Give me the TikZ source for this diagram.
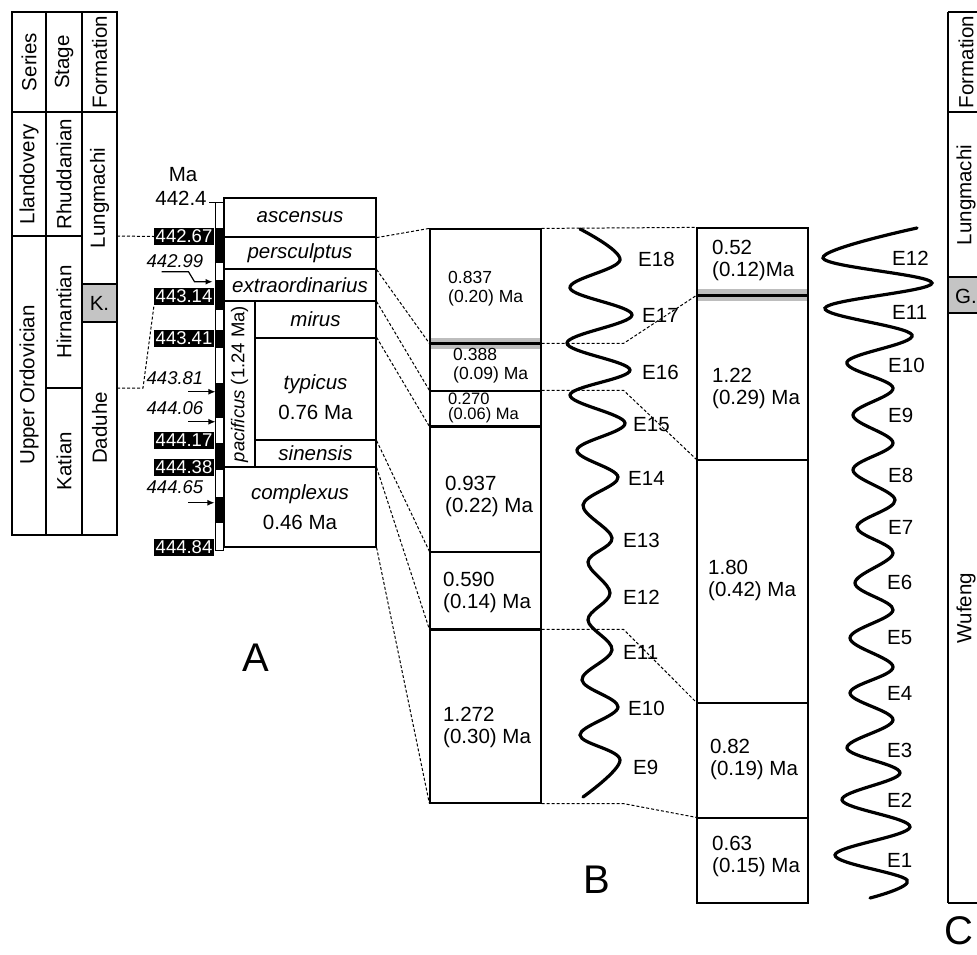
\documentclass[tikz,border=0pt]{standalone}
\usepackage{fontspec}
\setmainfont{Liberation Sans}
\usepackage{tikz}
\usetikzlibrary{arrows.meta,calc}
\definecolor{BandGray}{HTML}{BDBDBD}
\definecolor{CellGray}{HTML}{C4C4C4}
\newcommand{\txtmain}{\fontsize{20.5}{22}\selectfont}
\newcommand{\txtsmall}{\fontsize{17.5}{19}\selectfont}
\newcommand{\txtma}{\fontsize{18.5}{20}\selectfont}
\newcommand{\txtbig}{\fontsize{40}{44}\selectfont}

\begin{document}
\begin{tikzpicture}[x=1pt,y=-1pt,
    every node/.style={font=\txtmain, inner sep=0pt},
    box/.style={draw, line width=1.2pt, inner sep=0pt},
    con/.style={dash pattern=on 3pt off 2pt, line width=1pt},
    blk/.style={fill=black, text=white, font=\txtma, inner xsep=1.5pt, inner ysep=2pt, anchor=east},
    age/.style={font=\txtma\itshape},
    ptr/.style={-{Latex[length=7pt,width=6pt]}, line width=1.2pt},
    val/.style={anchor=west, align=left},
    wave/.style={line width=3.2pt, line cap=round, smooth, tension=0.6}]
  \useasboundingbox (0,0) rectangle (977,954);
  \clip (0,0) rectangle (977,954);

  % chronostratigraphic table
  \draw[line width=1.2pt] (12,12) rectangle (117,535);
  \draw[line width=1.2pt] (46,12) -- (46,535) (82,12) -- (82,535)
    (12,112) -- (117,112) (12,236) -- (82,236) (46,388) -- (82,388);
  \filldraw[fill=CellGray, line width=1.2pt] (82,284) rectangle (117,322);
  \node[rotate=90] (tSer) at (29,62) {Series};
  \node[rotate=90] (tStg) at (64,62) {Stage};
  \node[rotate=90] (tFm) at (99.5,62) {Formation};
  \node[rotate=90] (tLla) at (29,174) {Llandovery};
  \node[rotate=90] (tUO) at (29,385) {Upper Ordovician};
  \node[rotate=90] (tRhu) at (64,174) {Rhuddanian};
  \node[rotate=90] (tHir) at (64,312) {Hirnantian};
  \node[rotate=90] (tKat) at (64,461) {Katian};
  \node[rotate=90] (tLun) at (99.5,198) {Lungmachi};
  \node (tK) at (99.5,303) {K.};
  \node[rotate=90] (tDad) at (99.5,428) {Daduhe};
  \coordinate (lmBase) at (117,236);
  \coordinate (ddTop) at (117,388);

  % Ma scale
  \node (tMa) at (183,175) {Ma};
  \node (t4424) at (181,198) {442.4};
  \draw[line width=1pt] (209,202) -- (215,202);
  \filldraw[fill=white, line width=1pt] (215,202) rectangle (223,550);
  \foreach \a/\b in {228/263, 280/310, 330/348, 383/418, 443/470, 497/523}
    \fill (215,\a) rectangle (223,\b);
  \draw[line width=1pt] (215,202) rectangle (223,550);
  \node[blk] (l4267) at (214,236.5) {442.67};
  \node[blk] (l4314) at (214,296.5) {443.14};
  \node[blk] (l4341) at (214,338.5) {443.41};
  \node[blk] (l4417) at (214,440.5) {444.17};
  \node[blk] (l4438) at (214,467.5) {444.38};
  \node[blk] (l4484) at (214,547.5) {444.84};
  \node[age] (l4299) at (175,261) {442.99};
  \node[age] (l4381) at (175,378) {443.81};
  \node[age] (l4406) at (175,408) {444.06};
  \node[age] (l4465) at (175,487) {444.65};
  \draw[ptr] (l4299.south west) ++(15,4) -- ++(27,0) -- ++(6,10) -- ++(18,0);
  \draw[ptr] (l4381.south east) ++(-15,7) -- ++(27,0);
  \draw[ptr] (l4406.south east) ++(-15,7) -- ++(27,0);
  \draw[ptr] (l4465.south east) ++(-15,9) -- ++(26,0);
  \draw[con] (lmBase) -- (l4267.west);
  \draw[con] (ddTop) -- ++(26,0) -- (l4314.south west);

  % graptolite zones
  \node[box, minimum width=152pt, minimum height=39pt] (asc) at (300,217.5) {\itshape ascensus};
  \node[box, minimum width=152pt, minimum height=32pt] (per) at (300,253) {\itshape persculptus};
  \node[box, minimum width=152pt, minimum height=32pt] (ext) at (300,285) {\itshape extraordinarius};
  \node[box, rotate=90, minimum width=166pt, minimum height=31pt, font=\txtma] (pac) at (239.5,384)
    {\textit{pacificus} (1.24 Ma)};
  \node[box, minimum width=121pt, minimum height=37pt] (mir) at (315.5,319.5) {\itshape mirus};
  \node[box, minimum width=121pt, minimum height=102pt] (typ) at (315.5,389) {};
  \node[align=center] (typTxt) at (315.5,397) {\textit{typicus}\\[8pt]0.76 Ma};
  \node[box, minimum width=121pt, minimum height=27pt] (sin) at (315.5,453.5) {\itshape sinensis};
  \node[box, minimum width=152pt, minimum height=80pt, align=center] (cpx) at (300,507)
    {\textit{complexus}\\[8pt]0.46 Ma};

  % column B
  \fill[BandGray] (430,338) rectangle (541,349);
  \node[box, minimum width=111pt, minimum height=115pt] (m1) at (485.5,286.5) {};
  \node[box, minimum width=111pt, minimum height=47pt] (m2) at (485.5,367.5) {};
  \node[box, minimum width=111pt, minimum height=36pt] (m3) at (485.5,409) {};
  \node[box, minimum width=111pt, minimum height=125pt] (m4) at (485.5,489.5) {};
  \node[box, minimum width=111pt, minimum height=78pt] (m5) at (485.5,591) {};
  \node[box, minimum width=111pt, minimum height=173pt] (m6) at (485.5,716.5) {};
  \draw[line width=2.4pt] (m2.north west) -- (m2.north east);
  \draw[line width=2.4pt] (m4.north west) -- (m4.north east);
  \draw[line width=2.4pt] (m6.north west) -- (m6.north east);
  \node[val, font=\txtsmall] (v1) at (448,288.5) {0.837\\(0.20) Ma};
  \node[val, font=\txtsmall] (v2) at (453,365.5) {0.388\\(0.09) Ma};
  \node[val, font=\fontsize{16.5}{15.5}\selectfont] (v3) at (448,408) {0.270\\(0.06) Ma};
  \node[val] (v4) at (445,496) {0.937\\(0.22) Ma};
  \node[val] (v5) at (443,592) {0.590\\(0.14) Ma};
  \node[val] (v6) at (443,727) {1.272\\(0.30) Ma};

  % column right of B
  \fill[BandGray] (697,289) rectangle (808,301);
  \node[box, minimum width=111pt, minimum height=68pt] (r1) at (752.5,262) {};
  \node[box, minimum width=111pt, minimum height=164pt] (r2) at (752.5,378) {};
  \node[box, minimum width=111pt, minimum height=243pt] (r3) at (752.5,581.5) {};
  \node[box, minimum width=111pt, minimum height=115pt] (r4) at (752.5,760.5) {};
  \node[box, minimum width=111pt, minimum height=85pt] (r5) at (752.5,860.5) {};
  \draw[line width=2pt] (r2.north west) -- (r2.north east);
  \node[val] (w1) at (712,260) {0.52\\(0.12)Ma};
  \node[val] (w2) at (712,388.5) {1.22\\(0.29) Ma};
  \node[val] (w3) at (708,580) {1.80\\(0.42) Ma};
  \node[val] (w4) at (710,759.5) {0.82\\(0.19) Ma};
  \node[val] (w5) at (712,856) {0.63\\(0.15) Ma};

  % correlation lines
  \draw[con] (asc.south east) -- (m1.north west);
  \draw[con] (per.south east) -- (m2.north west);
  \draw[con] (ext.south east) -- (m3.north west);
  \draw[con] (typ.north east) -- (m4.north west);
  \draw[con] (typ.south east) -- (m5.north west);
  \draw[con] (sin.south east) -- (m6.north west);
  \draw[con] (cpx.south east) -- (m6.south west);
  \draw[con] (m1.north east) -- (r1.north west);
  \draw[con] (m2.north east) -- ++(82,0) -- (r2.north west);
  \draw[con] (m3.north east) -- ++(82,0) -- (r3.north west);
  \draw[con] (m6.north east) -- ++(82,0) -- (r4.north west);
  \draw[con] (m6.south east) -- ++(82,0) -- (r5.north west);

  % eccentricity cycles
  \draw[wave] plot coordinates {(580,229) (620,260) (570,288) (632,315) (567,343) (630,370)
    (570,395) (625,423) (577,450) (618,477) (583,505) (612,538) (588,562) (610,593)
    (588,620) (612,650) (582,680) (618,707) (580,735) (620,760) (583,797)};
  \node[anchor=west] (e18) at (638,259) {E18};
  \node[anchor=west] (e17) at (642,315) {E17};
  \node[anchor=west] (e16) at (642,372) {E16};
  \node[anchor=west] (e15) at (633,425) {E15};
  \node[anchor=west] (e14) at (628,478) {E14};
  \node[anchor=west] (e13) at (623,540) {E13};
  \node[anchor=west] (e12) at (623,597) {E12};
  \node[anchor=west] (e11) at (623,652) {E11};
  \node[anchor=west] (e10) at (628,708) {E10};
  \node[anchor=west] (e9) at (633,767) {E9};

  \draw[wave] plot coordinates {(917,228) (823,258) (932,283) (825,308) (912,335) (847,362)
    (893,388) (853,415) (893,443) (853,470) (895,500) (857,527) (893,553) (855,583)
    (893,610) (850,638) (893,667) (850,693) (893,720) (847,748) (900,773) (842,800)
    (910,827) (835,855) (907,880) (870,898)};
  \node[anchor=west] (f12) at (892,258) {E12};
  \node[anchor=west] (f11) at (892,312) {E11};
  \node[anchor=west] (f10) at (888,365) {E10};
  \node[anchor=west] (f9) at (888,415) {E9};
  \node[anchor=west] (f8) at (888,475) {E8};
  \node[anchor=west] (f7) at (888,527) {E7};
  \node[anchor=west] (f6) at (887,582) {E6};
  \node[anchor=west] (f5) at (887,638) {E5};
  \node[anchor=west] (f4) at (887,693) {E4};
  \node[anchor=west] (f3) at (887,750) {E3};
  \node[anchor=west] (f2) at (887,800) {E2};
  \node[anchor=west] (f1) at (887,860) {E1};

  % column C
  \draw[line width=1.2pt] (948,12) -- (948,903) (948,12) -- (985,12)
    (948,112) -- (985,112) (948,903) -- (985,903);
  \filldraw[fill=CellGray, line width=1.2pt] (948,277) rectangle (990,313);
  \node[rotate=90] (cFm) at (966,62) {Formation};
  \node[rotate=90] (cLun) at (966,195) {Lungmachi};
  \node[anchor=west] (cG) at (955,296) {G.};
  \node[rotate=90] (cWuf) at (966,608) {Wufeng};

  \node[font=\txtbig] (labA) at (256,658) {A};
  \node[font=\txtbig] (labB) at (597,880) {B};
  \node[font=\txtbig] (labC) at (959,931) {C};
\end{tikzpicture}
\end{document}
